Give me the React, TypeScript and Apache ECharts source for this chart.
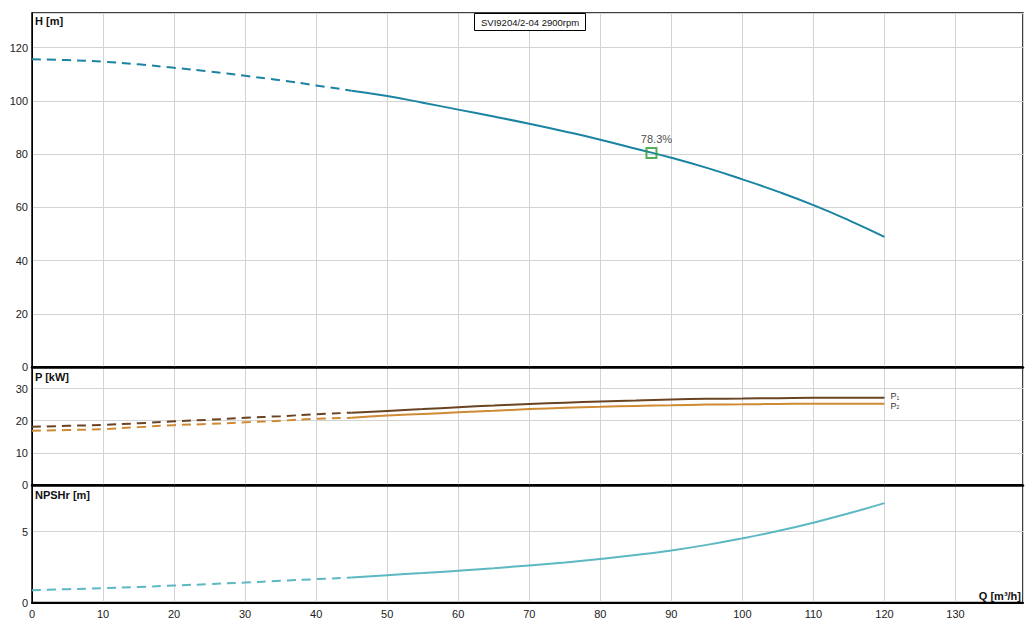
import React, { useEffect, useRef } from "react";
import * as echarts from "echarts";

const Q_DASHED = [0, 5, 10, 15, 20, 25, 30, 35, 40, 45];
const Q_SOLID = [45, 50, 55, 60, 65, 70, 75, 80, 85, 90, 95, 100, 105, 110, 115, 120];

const H_DASHED = [115.6, 115.3, 114.7, 113.7, 112.4, 111.0, 109.4, 107.7, 105.8, 103.8];
const H_SOLID = [103.8, 101.8, 99.3, 96.7, 94.1, 91.4, 88.5, 85.4, 82.0, 78.6, 74.8, 70.5, 65.9, 60.8, 55.1, 48.9];

const P1_DASHED = [18.1, 18.4, 18.7, 19.2, 19.8, 20.3, 20.9, 21.4, 22.0, 22.5];
const P1_SOLID = [22.5, 23.05, 23.6, 24.2, 24.7, 25.2, 25.6, 26.0, 26.3, 26.6, 26.8, 26.9, 27.0, 27.1, 27.1, 27.1];

const P2_DASHED = [16.9, 17.1, 17.4, 18.0, 18.6, 19.0, 19.5, 20.0, 20.6, 20.9];
const P2_SOLID = [20.9, 21.6, 22.1, 22.6, 23.1, 23.6, 24.0, 24.3, 24.6, 24.8, 25.0, 25.1, 25.2, 25.3, 25.3, 25.3];

const NPSH_DASHED = [0.87, 0.94, 1.01, 1.1, 1.2, 1.3, 1.41, 1.53, 1.65, 1.76];
const NPSH_SOLID = [1.76, 1.93, 2.08, 2.24, 2.42, 2.62, 2.83, 3.07, 3.35, 3.68, 4.07, 4.53, 5.05, 5.64, 6.3, 7.02];

const DUTY_POINT = [87.2, 80.4];
const DUTY_LABEL = "78.3%";
const TITLE = "SVI9204/2-04 2900rpm";

const X_MAX = 139.5;
const H_MAX = 133;
const P_MAX = 36.7;
const N_MAX = 8.3;

const FONT = "Liberation Sans, Arial, sans-serif";
const C_H = "#1a84a2";
const C_P1 = "#6a4322";
const C_P2 = "#cf8a34";
const C_N = "#5cb8c2";
const GRIDC = "#d3d3d3";

const zip = (xs: number[], ys: number[]) => xs.map((x, i) => [x, ys[i]]);

export default function App() {
  const ref = useRef<HTMLDivElement>(null);
  useEffect(() => {
    if (!ref.current) return;
    const chart = echarts.init(ref.current, null, { renderer: "svg" });
    const grids = [
      { left: 32, top: 13, width: 991, height: 354 },
      { left: 32, top: 367, width: 991, height: 118 },
      { left: 32, top: 485, width: 991, height: 117.5 },
    ].map((g) => ({ ...g, show: true, borderColor: "#000", borderWidth: 1.5, backgroundColor: "#fff" }));

    const xAxes = [0, 1, 2].map((i) => ({
      type: "value",
      gridIndex: i,
      min: 0,
      max: X_MAX,
      interval: 10,
      axisLine: { show: true, onZero: false, lineStyle: { color: "#000", width: i < 2 ? 2.5 : 2 } },
      axisTick: { show: false },
      splitLine: { show: true, lineStyle: { color: GRIDC, width: 1 } },
      axisLabel: {
        show: i === 2,
        showMaxLabel: false,
        color: "#222",
        fontSize: 11,
        fontFamily: FONT,
        margin: 6,
      },
    }));

    const yAxis = (i: number, max: number, interval: number) => ({
      type: "value",
      gridIndex: i,
      min: 0,
      max,
      interval,
      axisLine: { show: true, lineStyle: { color: "#000", width: 1 } },
      axisTick: { show: false },
      splitLine: { show: true, lineStyle: { color: GRIDC, width: 1 } },
      axisLabel: {
        showMaxLabel: false,
        color: "#222",
        fontSize: 11,
        fontFamily: FONT,
        margin: 4,
      },
    });

    const line = (
      xi: number,
      data: number[][],
      color: string,
      dashed: boolean,
      extra: any = {}
    ) => ({
      type: "line",
      xAxisIndex: xi,
      yAxisIndex: xi,
      data,
      smooth: true,
      symbol: "none",
      lineStyle: { color, width: 2, type: dashed ? [9, 6] : "solid" },
      z: 3,
      ...extra,
    });

    const subLabel = (sub: string, dy: number) => ({
      show: true,
      formatter: "{p|P}{s|" + sub + "}",
      distance: 6,
      offset: [0, dy],
      rich: {
        p: { fontSize: 9, lineHeight: 8, color: "#333", fontFamily: FONT },
        s: { fontSize: 5, lineHeight: 5, color: "#333", fontFamily: FONT, verticalAlign: "bottom", padding: [3, 0, 0, 0] },
      },
    });

    const textStyle = { fontSize: 11, fontWeight: "bold", fill: "#111", fontFamily: FONT };

    chart.setOption({
      animation: false,
      backgroundColor: "#fff",
      title: {
        text: TITLE,
        left: 474,
        top: 13,
        padding: [4, 7, 4, 7],
        borderColor: "#000",
        borderWidth: 1,
        backgroundColor: "#fff",
        textStyle: { fontSize: 9.5, fontWeight: "normal", color: "#111", fontFamily: FONT },
        z: 10,
      },
      grid: grids,
      xAxis: xAxes,
      yAxis: [yAxis(0, H_MAX, 20), yAxis(1, P_MAX, 10), yAxis(2, N_MAX, 5)],
      series: [
        line(0, zip(Q_DASHED, H_DASHED), C_H, true),
        line(0, zip(Q_SOLID, H_SOLID), C_H, false),
        line(1, zip(Q_DASHED, P1_DASHED), C_P1, true),
        line(1, zip(Q_SOLID, P1_SOLID), C_P1, false, { endLabel: subLabel("1", -1.5) }),
        line(1, zip(Q_DASHED, P2_DASHED), C_P2, true),
        line(1, zip(Q_SOLID, P2_SOLID), C_P2, false, { endLabel: subLabel("2", 2) }),
        line(2, zip(Q_DASHED, NPSH_DASHED), C_N, true),
        line(2, zip(Q_SOLID, NPSH_SOLID), C_N, false),
        {
          type: "scatter",
          xAxisIndex: 0,
          yAxisIndex: 0,
          data: [DUTY_POINT],
          symbol: "rect",
          symbolSize: 10,
          z: 5,
          itemStyle: { color: "rgba(0,0,0,0)", borderColor: "#2e9a2e", borderWidth: 2 },
          label: {
            show: true,
            position: "top",
            distance: 3,
            offset: [5, 0],
            formatter: DUTY_LABEL,
            color: "#111",
            fontSize: 11,
            fontFamily: FONT,
          },
        },
      ],
      graphic: [
        { type: "text", left: 35, top: 15, style: { ...textStyle, text: "H [m]" }, z: 10 },
        { type: "text", left: 35, top: 371, style: { ...textStyle, text: "P [kW]" }, z: 10 },
        { type: "text", left: 35, top: 489, style: { ...textStyle, text: "NPSHr [m]" }, z: 10 },
        { type: "text", right: 15, top: 590, style: { ...textStyle, text: "Q [m³/h]" }, z: 10 },
      ],
    });
    return () => chart.dispose();
  }, []);
  return (
    <div
      ref={ref}
      style={{ position: "fixed", left: 0, top: 0, width: 1036, height: 631, background: "#fff" }}
    />
  );
}
